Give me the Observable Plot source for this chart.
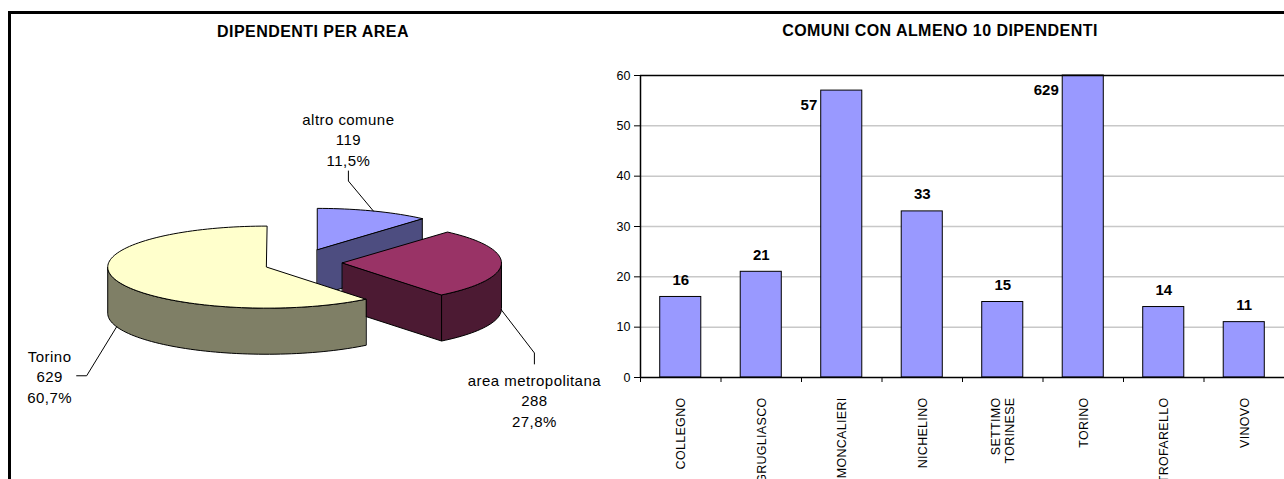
<!DOCTYPE html>
<html>
<head>
<meta charset="utf-8">
<script src="https://cdn.jsdelivr.net/npm/d3@7"></script>
<script src="https://cdn.jsdelivr.net/npm/@observablehq/plot@0.6"></script>
<style>
  body { margin: 0; background: #fff; font-family: "Liberation Sans", Arial, sans-serif; }
  #page { position: relative; width: 1284px; height: 479px; overflow: hidden; background: #fff; }
  #pie, #bars { position: absolute; top: 0; }
  #pie { left: 0; }
  #bars { left: 590px; }
  #border { position: absolute; left: 8px; top: 11px; width: 1400px; height: 600px;
            border-top: 3px solid #000; border-left: 3px solid #000; pointer-events: none; }
  .title { position: absolute; font-weight: bold; font-size: 16px; letter-spacing: 0.45px; white-space: nowrap;
           transform: translate(-50%, -50%); color: #000; }
  .cat-label { letter-spacing: 0.3px; }
</style>
</head>
<body>
<div id="page">
  <div id="bars"></div>
  <div id="pie"></div>
  <div class="title" style="left:313px; top:32px;">DIPENDENTI PER AREA</div>
  <div class="title" style="left:940px; top:31px;">COMUNI CON ALMENO 10 DIPENDENTI</div>
  <div id="border"></div>
</div>
<script>
// Dipendenti per area di residenza
const areaNames = ["Torino", "area metropolitana", "altro comune"];
const areaValues = [629, 288, 119];
const areaTopColors = ["#FFFFCC", "#993366", "#9999FF"];
const areaSideColors = ["#7F7F66", "#4C1A33", "#4D4D80"];

// Comuni con almeno 10 dipendenti
const comuni = ["COLLEGNO", "GRUGLIASCO", "MONCALIERI", "NICHELINO", "SETTIMO\nTORINESE", "TORINO", "TROFARELLO", "VINOVO"];
const dipendenti = [16, 21, 57, 33, 15, 629, 14, 11];
const yTicks = [0, 10, 20, 30, 40, 50, 60];

const FONT = "'Liberation Sans', Arial, sans-serif";

// ---------- 3D exploded pie ----------
const W1 = 640, H1 = 479;
const R = 159;              // pixels per unit of pie radius
const CX = 303, CY = 262;   // pie centre (pixels)
const TILT = 0.258;         // vertical squash of the disc
const DEPTH = 0.29;         // thickness of the disc
const EXPLODE_X = 0.245, EXPLODE_Y = 0.088;

const total = d3.sum(areaValues);
let acc = 0;
// slices run anticlockwise from 12 o'clock; angles measured clockwise
const slices = areaValues.map((v, i) => {
  const a1 = 2 * Math.PI * (1 - acc / total);
  acc += v;
  const a0 = 2 * Math.PI * (1 - acc / total);
  const mid = (a0 + a1) / 2;
  return {i, name: areaNames[i], value: v, a0, a1, mid,
          ox: EXPLODE_X * Math.sin(mid), oy: -EXPLODE_Y * Math.cos(mid)};
});

const pt = (s, a, h) => ({x: s.ox + Math.sin(a), y: s.oy - Math.cos(a) * TILT + h * DEPTH});
const ctr = (s, h) => ({x: s.ox, y: s.oy + h * DEPTH});
const arcPts = (s, from, to, h) => {
  const n = Math.max(2, Math.ceil(Math.abs(to - from) / (Math.PI / 90)));
  return d3.range(n + 1).map(j => pt(s, from + (to - from) * j / n, h));
};

// faces painted back to front
const polys = [];
for (const s of [...slices].sort((a, b) => a.oy - b.oy)) {
  const side = areaSideColors[s.i], top = areaTopColors[s.i];
  for (const [a, normal] of [[s.a0, s.a0 - Math.PI / 2], [s.a1, s.a1 + Math.PI / 2]]) {
    if (-Math.cos(normal) > 1e-6) polys.push({fill: side, pts: [ctr(s, 0), pt(s, a, 0), pt(s, a, 1), ctr(s, 1)]});
  }
  const f0 = Math.max(s.a0, Math.PI / 2), f1 = Math.min(s.a1, 3 * Math.PI / 2);
  if (f1 > f0) polys.push({fill: side, pts: [...arcPts(s, f0, f1, 0), ...arcPts(s, f1, f0, 1)]});
  polys.push({fill: top, pts: [ctr(s, 0), ...arcPts(s, s.a0, s.a1, 0)]});
}

// leader lines and labels (offsets in pixels from the rim point)
const labelLayout = [
  {bend: [-30, 49], end: [-40, 49], text: [-27, 0], lineAnchor: "middle"},
  {bend: [33, 43], end: [33, 54], text: [0, 7], lineAnchor: "top"},
  {bend: [-25, -30], end: [-25, -40], text: [0, -5], lineAnchor: "bottom"}
];
const fmtPct = v => (v / total * 100).toFixed(1).replace(".", ",") + "%";
const leaders = [], labels = [];
slices.forEach(s => {
  const L = labelLayout[s.i];
  const back = Math.cos(s.mid) > 0;
  const a = pt(s, s.mid, back ? 0 : 1);
  leaders.push({name: s.name, x: a.x, y: a.y});
  leaders.push({name: s.name, x: a.x + L.bend[0] / R, y: a.y + L.bend[1] / R});
  const e = {x: a.x + L.end[0] / R, y: a.y + L.end[1] / R};
  leaders.push({name: s.name, ...e});
  labels.push({x: e.x + L.text[0] / R, y: e.y + L.text[1] / R, lineAnchor: L.lineAnchor,
               text: `${s.name}\n${s.value}\n${fmtPct(s.value)}`});
});

const piePlot = Plot.plot({
  width: W1, height: H1, margin: 0,
  style: {background: "transparent", fontFamily: FONT, color: "#000", letterSpacing: "0.45px"},
  x: {domain: [-CX / R, (W1 - CX) / R], range: [0, W1], axis: null},
  y: {domain: [-CY / R, (H1 - CY) / R], range: [0, H1], axis: null},
  marks: [
    ...polys.map(p => Plot.line(p.pts, {x: "x", y: "y", fill: p.fill, stroke: "#000", strokeWidth: 1, curve: "linear-closed"})),
    Plot.line(leaders, {x: "x", y: "y", z: "name", stroke: "#000", strokeWidth: 1}),
    ...["top", "middle", "bottom"].map(la => Plot.text(labels.filter(d => d.lineAnchor === la), {
      x: "x", y: "y", text: "text", lineAnchor: la, lineHeight: 1.38, fontSize: 15, fill: "#000"
    }))
  ]
});
document.getElementById("pie").append(piePlot);

// ---------- bar chart ----------
const barsData = comuni.map((name, i) => ({name, value: dipendenti[i], i}));
const INSET = 0.245;
const fits = d => d.value <= 50;

const barPlot = Plot.plot({
  width: 694, height: 479,
  marginLeft: 50, marginRight: 0, marginTop: 75, marginBottom: 102,
  style: {background: "transparent", fontFamily: FONT, color: "#000", fontSize: "12px"},
  x: {domain: [0, comuni.length]},
  y: {domain: [0, 60], clamp: true},
  marks: [
    Plot.gridY(yTicks.slice(1, -1), {stroke: "#c8c8c8", strokeOpacity: 1, strokeWidth: 1.5}),
    Plot.rect(barsData, {x1: d => d.i + INSET, x2: d => d.i + 1 - INSET, y1: 0, y2: "value",
                         fill: "#9999FF", stroke: "#000", strokeWidth: 1}),
    Plot.ruleY([60], {stroke: "#000", strokeWidth: 1.5}),
    Plot.ruleY([0], {stroke: "#000", strokeWidth: 1.5}),
    Plot.ruleX([0], {stroke: "#000", strokeWidth: 1.5}),
    Plot.axisY({ticks: yTicks, tickSize: 6, tickPadding: 4, tickFormat: d => d, fontSize: 12.5, label: null}),
    Plot.axisX({ticks: d3.range(0, comuni.length + 1), tickSize: 5, tickFormat: () => "", label: null}),
    Plot.text(barsData, {x: d => d.i + 0.5, y: 0, text: "name", rotate: -90, textAnchor: "end",
                         dy: 20, fontSize: 12.5, lineHeight: 1.08, className: "cat-label"}),
    Plot.text(barsData.filter(fits), {x: d => d.i + 0.5, y: "value", text: d => String(d.value),
                                      dy: -17, fontSize: 15, fontWeight: "bold"}),
    Plot.text(barsData.filter(d => !fits(d)), {x: d => d.i + INSET, y: "value", text: d => String(d.value),
                                               textAnchor: "end", lineAnchor: "top", dx: -4, dy: 9,
                                               fontSize: 15, fontWeight: "bold"})
  ]
});
document.getElementById("bars").append(barPlot);
</script>
</body>
</html>
